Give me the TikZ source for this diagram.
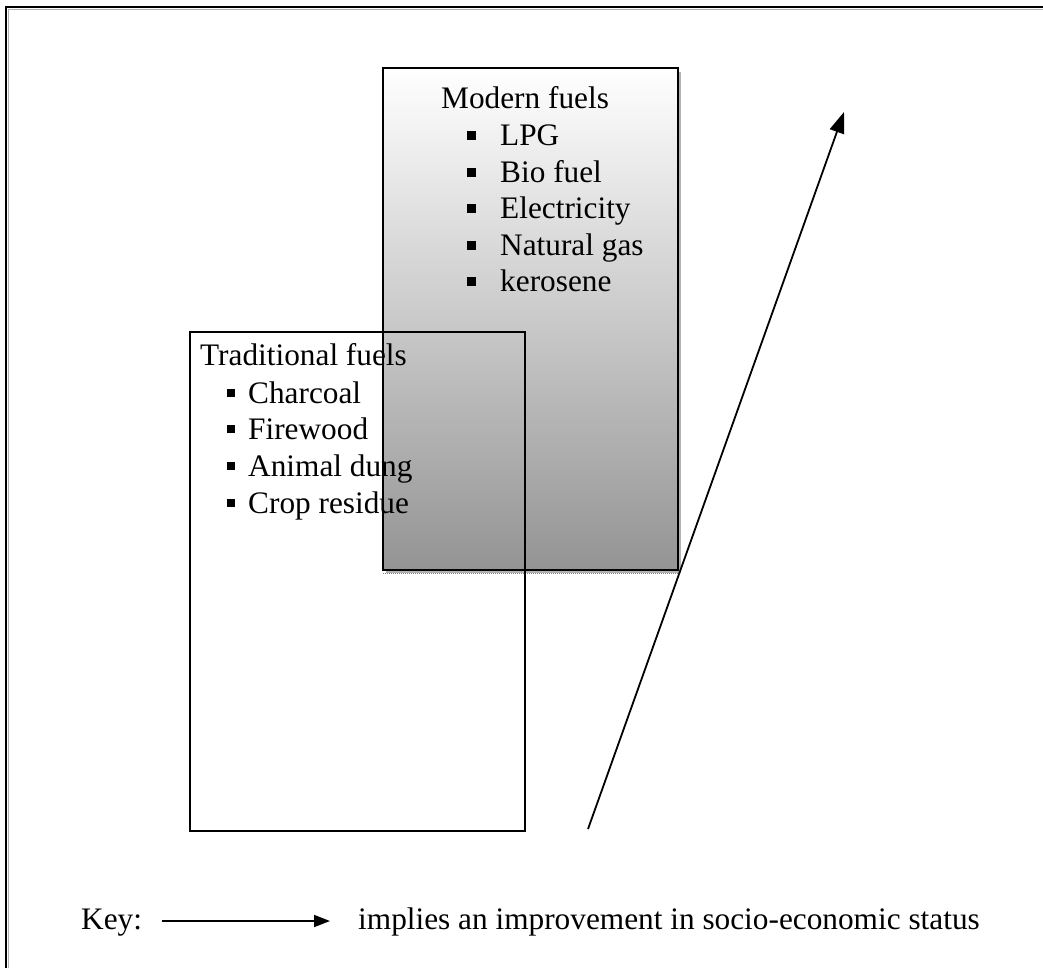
\documentclass[tikz,border=0pt]{standalone}
\usepackage{fontspec}
\setmainfont{Liberation Serif}
\usetikzlibrary{arrows.meta,calc}
\begin{document}
\begin{tikzpicture}[x=1pt,y=-1pt,
  txt/.style={anchor=base west,inner sep=0pt,font=\fontsize{31.3}{36}\selectfont},
  bulm/.style={fill=black,inner sep=0pt,minimum size=9pt,anchor=center},
  bult/.style={fill=black,inner sep=0pt,minimum size=8pt,anchor=center},
  boxline/.style={draw=black,line width=1.3pt},
  arr/.style={line width=1.8pt,-{Triangle[length=21pt,width=15pt]}},
  keyarr/.style={line width=1.8pt,-{Triangle[length=16pt,width=12pt]}}]
\useasboundingbox (0,0) rectangle (1043,967);
% outer frame (right and bottom lie outside the picture)
\draw[line width=2pt] (6,980) -- (6,7) -- (1060,7);
\draw[gray!60,line width=1pt] (8.5,980) -- (8.5,9.5) -- (1060,9.5);
% modern fuels box
\fill[gray!60] (386,72) rectangle (681,573);
\node[boxline,anchor=north west,inner sep=0pt,outer sep=0pt,
  minimum width=295pt,minimum height=502pt,
  top color=white,middle color=black!14,bottom color=black!42] (modern) at (383,68) {};
\draw[densely dotted,gray,line width=1pt] ($(modern.south west)+(0,3)$) -- ($(modern.south east)+(0,3)$);
% traditional fuels box
\node[boxline,anchor=north west,inner sep=0pt,outer sep=0pt,
  minimum width=335pt,minimum height=499pt] (trad) at (190,332) {};
% modern texts
\node[txt] (mh) at (441,108) {Modern fuels};
\foreach \i/\t/\y in {1/LPG/145,2/Bio fuel/182,3/Electricity/218,4/Natural gas/255,5/kerosene/291}{
  \node[bulm] (mb\i) at (471,\y-10) {};
  \node[txt] (mt\i) at (500,\y) {\t};
}
% traditional texts
\node[txt] (th) at (200,365) {Traditional fuels};
\foreach \i/\t/\y in {1/Charcoal/403,2/Firewood/439,3/Animal dung/476,4/Crop residue/513}{
  \node[bult] (tb\i) at (231,\y-10) {};
  \node[txt] (tt\i) at (248,\y) {\t};
}
% main arrow
\coordinate (as) at (588,829);
\coordinate (ae) at (844,112);
\draw[arr] (as) -- (ae);
% key
\node[txt] (key) at (81,929) {Key:};
\coordinate (ks) at (162,921);
\coordinate (ke) at (330,921);
\draw[keyarr] (ks) -- (ke);
\node[txt] (keytxt) at (358,929) {implies an improvement in socio-economic status};
\end{tikzpicture}
\end{document}
